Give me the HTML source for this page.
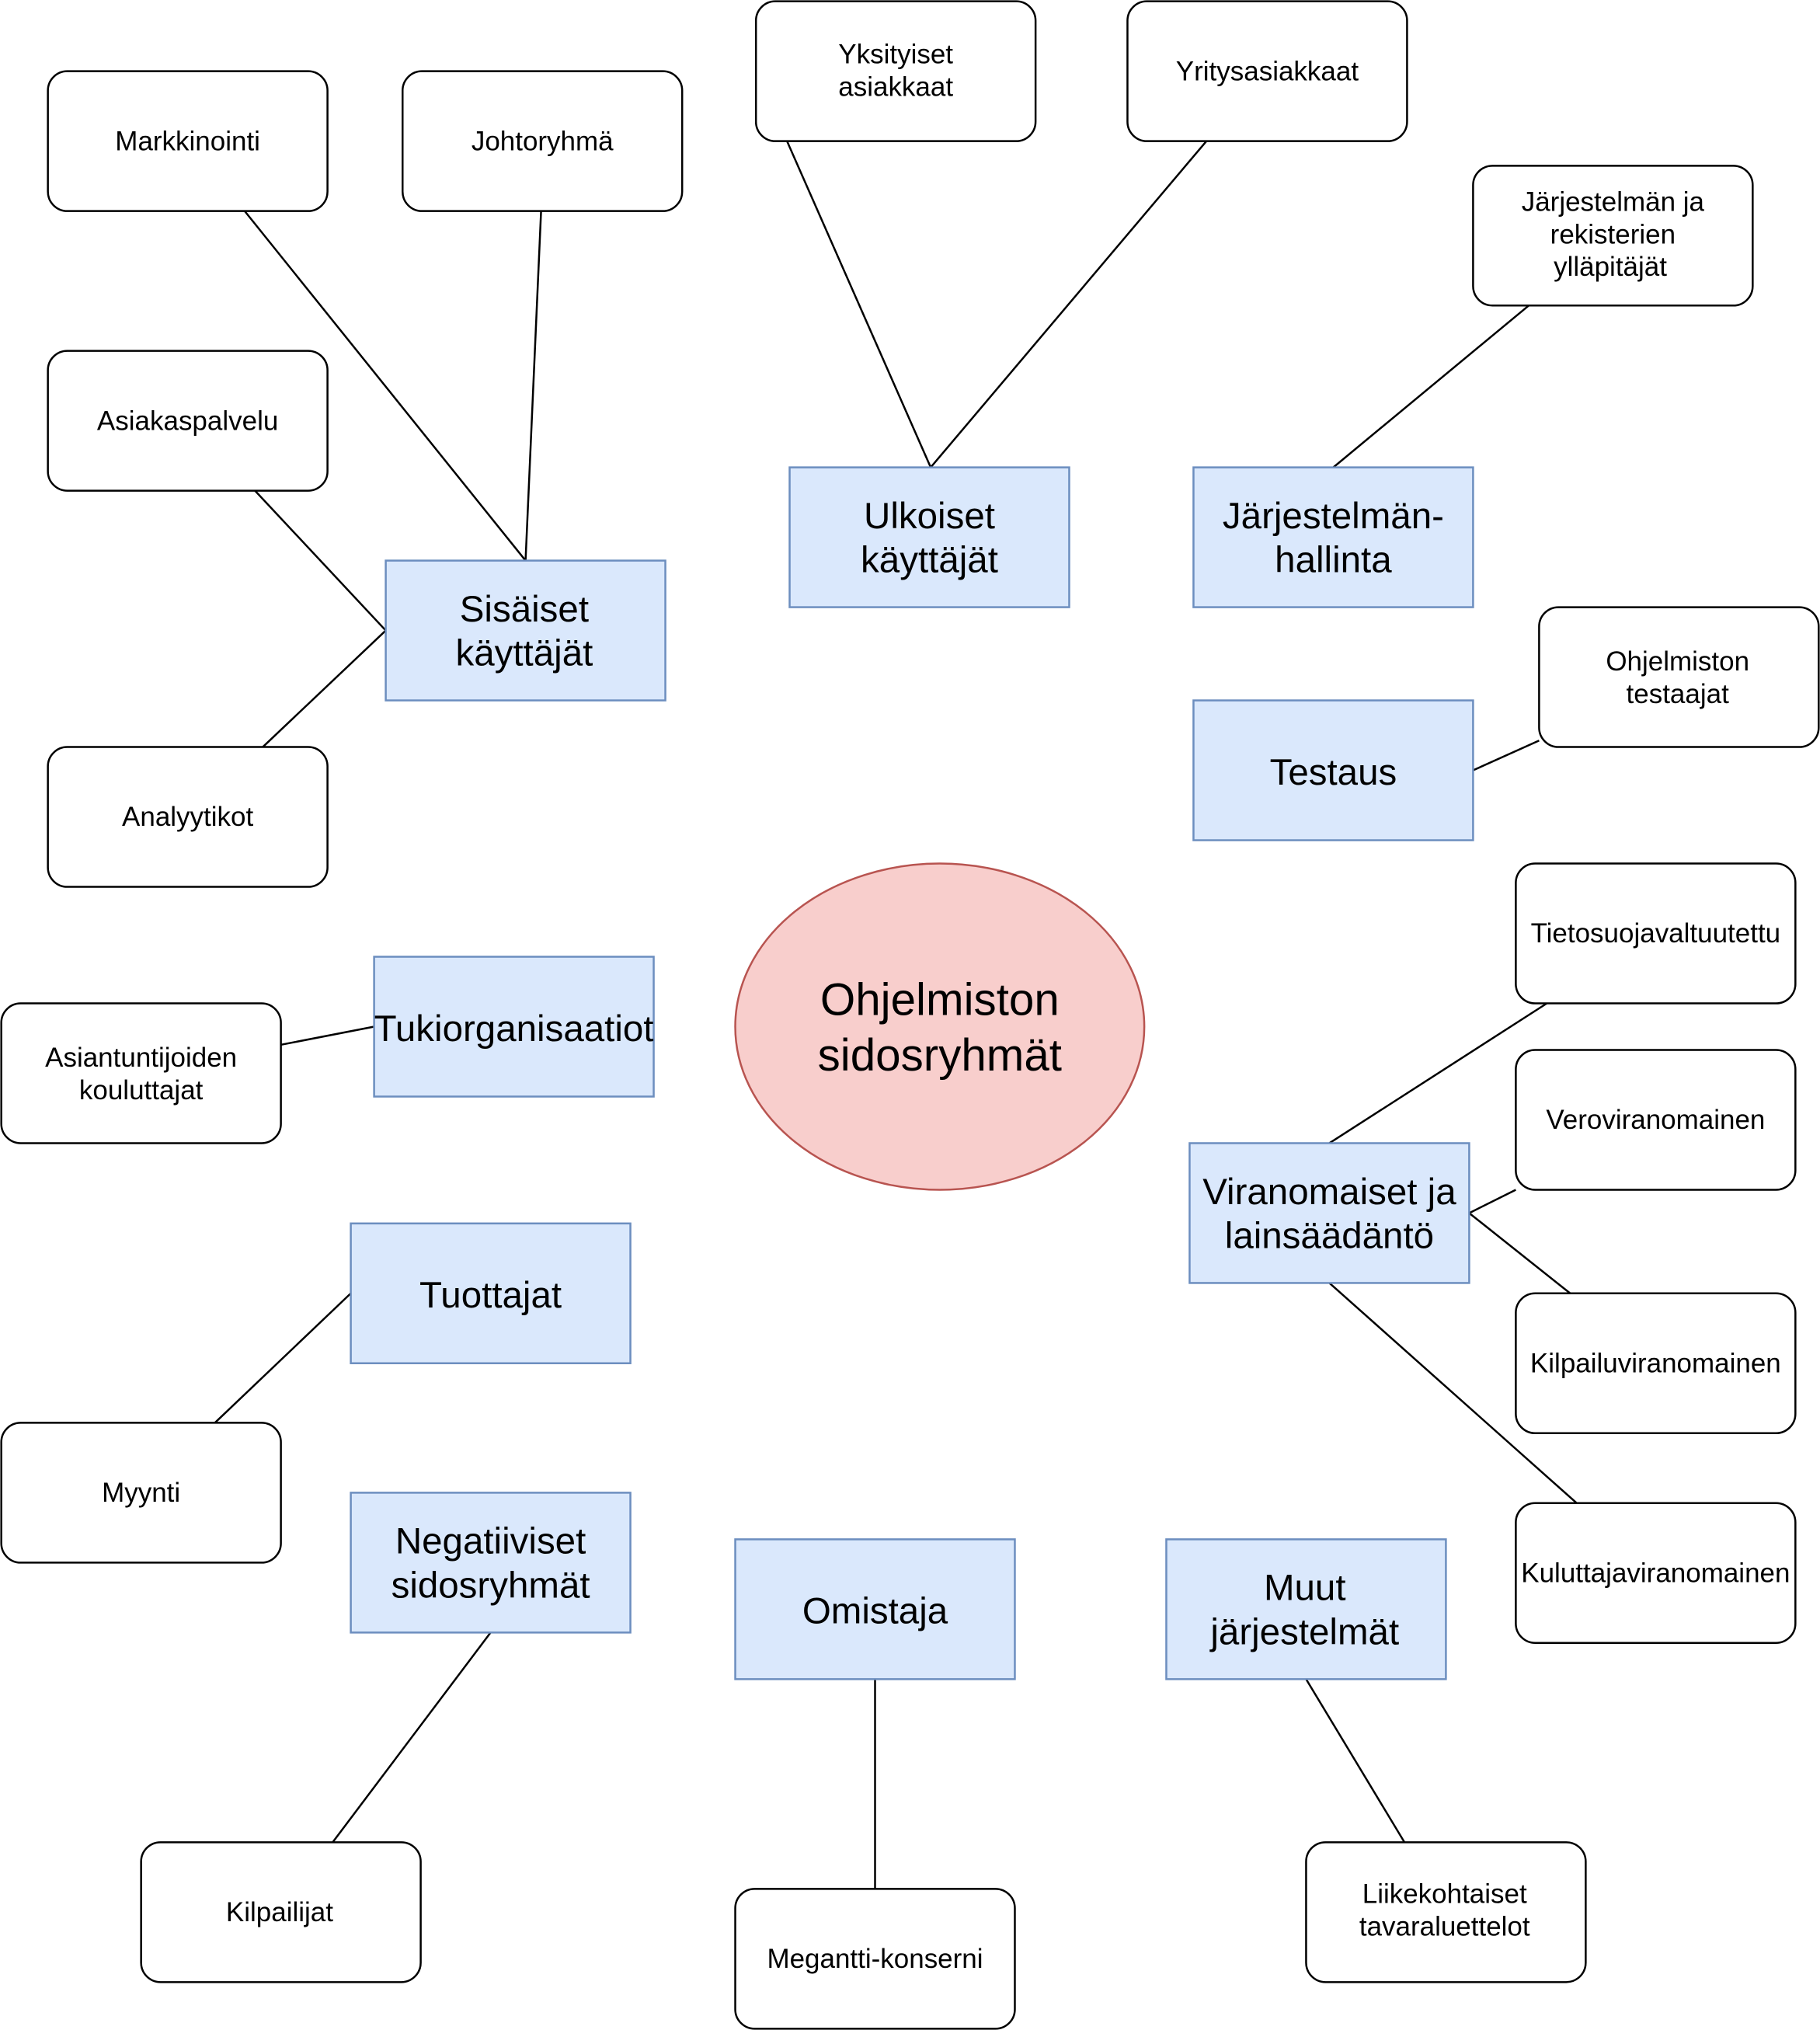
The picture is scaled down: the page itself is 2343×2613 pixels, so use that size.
<!DOCTYPE html>
<html><head><meta charset="utf-8"><style>html,body{margin:0;padding:0;background:#fff}svg{display:block}</style></head>
<body>
<svg width="2343" height="2613" viewBox="0 0 1406 1568" xmlns="http://www.w3.org/2000/svg" font-family="'Liberation Sans', Arial, sans-serif">
<rect width="1406" height="1568" fill="#fff"/>
<g stroke="#000" stroke-width="1.5" fill="none">
<line x1="189" y1="163" x2="406" y2="433"/>
<line x1="418" y1="163" x2="406" y2="433"/>
<line x1="197" y1="379" x2="298" y2="487"/>
<line x1="203" y1="577" x2="298" y2="487"/>
<line x1="608" y1="109" x2="719" y2="361"/>
<line x1="932" y1="109" x2="719" y2="361"/>
<line x1="1181" y1="236" x2="1030" y2="361"/>
<line x1="1138" y1="595" x2="1189" y2="572"/>
<line x1="217" y1="807" x2="289" y2="793"/>
<line x1="1195" y1="775" x2="1027" y2="883"/>
<line x1="1135" y1="937" x2="1171" y2="919"/>
<line x1="1135" y1="937" x2="1213" y2="999"/>
<line x1="1027" y1="991" x2="1218" y2="1161"/>
<line x1="271" y1="999" x2="166" y2="1099"/>
<line x1="379" y1="1261" x2="257" y2="1423"/>
<line x1="676" y1="1297" x2="676" y2="1459"/>
<line x1="1009" y1="1297" x2="1085" y2="1423"/>
</g>
<g fill="#fff" stroke="#000" stroke-width="1.5">
<rect x="37" y="55" width="216" height="108" rx="15"/>
<rect x="311" y="55" width="216" height="108" rx="15"/>
<rect x="584" y="1" width="216" height="108" rx="15"/>
<rect x="871" y="1" width="216" height="108" rx="15"/>
<rect x="1138" y="128" width="216" height="108" rx="15"/>
<rect x="37" y="271" width="216" height="108" rx="15"/>
<rect x="37" y="577" width="216" height="108" rx="15"/>
<rect x="1189" y="469" width="216" height="108" rx="15"/>
<rect x="1" y="775" width="216" height="108" rx="15"/>
<rect x="1171" y="667" width="216" height="108" rx="15"/>
<rect x="1171" y="811" width="216" height="108" rx="15"/>
<rect x="1171" y="999" width="216" height="108" rx="15"/>
<rect x="1171" y="1161" width="216" height="108" rx="15"/>
<rect x="1" y="1099" width="216" height="108" rx="15"/>
<rect x="109" y="1423" width="216" height="108" rx="15"/>
<rect x="568" y="1459" width="216" height="108" rx="15"/>
<rect x="1009" y="1423" width="216" height="108" rx="15"/>
</g>
<g fill="#dae8fc" stroke="#6c8ebf" stroke-width="1.5">
<rect x="298" y="433" width="216" height="108"/>
<rect x="610" y="361" width="216" height="108"/>
<rect x="922" y="361" width="216" height="108"/>
<rect x="922" y="541" width="216" height="108"/>
<rect x="289" y="739" width="216" height="108"/>
<rect x="919" y="883" width="216" height="108"/>
<rect x="271" y="945" width="216" height="108"/>
<rect x="271" y="1153" width="216" height="108"/>
<rect x="568" y="1189" width="216" height="108"/>
<rect x="901" y="1189" width="216" height="108"/>
</g>
<ellipse cx="726" cy="793" rx="158" ry="126" fill="#f8cecc" stroke="#b85450" stroke-width="1.5"/>
<g font-size="21" text-anchor="middle" fill="#000">
<text x="145" y="116">Markkinointi</text>
<text x="419" y="116">Johtoryhmä</text>
<text x="692" y="49">Yksityiset</text><text x="692" y="74">asiakkaat</text>
<text x="979" y="62">Yritysasiakkaat</text>
<text x="1246" y="163">Järjestelmän ja</text><text x="1246" y="188">rekisterien</text><text x="1244" y="213">ylläpitäjät</text>
<text x="145" y="332">Asiakaspalvelu</text>
<text x="145" y="638">Analyytikot</text>
<text x="1296" y="518">Ohjelmiston</text><text x="1296" y="543">testaajat</text>
<text x="109" y="824">Asiantuntijoiden</text><text x="109" y="849">kouluttajat</text>
<text x="1279" y="728">Tietosuojavaltuutettu</text>
<text x="1279" y="872">Veroviranomainen</text>
<text x="1279" y="1060">Kilpailuviranomainen</text>
<text x="1279" y="1222">Kuluttajaviranomainen</text>
<text x="109" y="1160">Myynti</text>
<text x="216" y="1484">Kilpailijat</text>
<text x="676" y="1520">Megantti-konserni</text>
<text x="1116" y="1470">Liikekohtaiset</text><text x="1116" y="1495">tavaraluettelot</text>
</g>
<g font-size="28.5" text-anchor="middle" fill="#000">
<text x="405" y="480">Sisäiset</text><text x="405" y="514">käyttäjät</text>
<text x="718" y="408">Ulkoiset</text><text x="718" y="442">käyttäjät</text>
<text x="1030" y="408">Järjestelmän-</text><text x="1030" y="442">hallinta</text>
<text x="1030" y="606">Testaus</text>
<text x="397" y="804">Tukiorganisaatiot</text>
<text x="1027" y="930">Viranomaiset ja</text><text x="1027" y="964">lainsäädäntö</text>
<text x="379" y="1010">Tuottajat</text>
<text x="379" y="1200">Negatiiviset</text><text x="379" y="1234">sidosryhmät</text>
<text x="676" y="1254">Omistaja</text>
<text x="1008" y="1236">Muut</text><text x="1008" y="1270">järjestelmät</text>
</g>
<g font-size="35" text-anchor="middle" fill="#000">
<text x="726" y="784">Ohjelmiston</text><text x="726" y="827">sidosryhmät</text>
</g>
</svg>
</body></html>
